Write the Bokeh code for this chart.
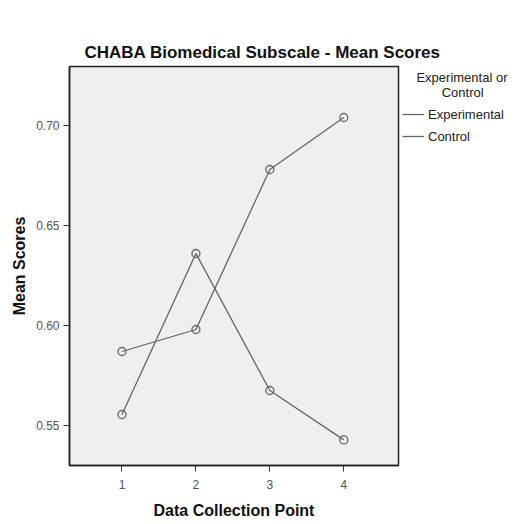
from bokeh.plotting import figure
from bokeh.models import FixedTicker, Range1d, Legend, LegendItem, NumeralTickFormatter, Title
from bokeh.embed import file_html
from bokeh.resources import INLINE

points = [1, 2, 3, 4]
experimental = [0.587, 0.598, 0.678, 0.704]
control = [0.5555, 0.636, 0.5675, 0.5428]
y_ticks = [0.55, 0.60, 0.65, 0.70]
series_names = ["Experimental", "Control"]
legend_title = "\u00a0\u00a0\u00a0\u00a0Experimental or\n" + "\u00a0" * 11 + "Control"
chart_title = "CHABA Biomedical Subscale - Mean Scores"

FONT = "Liberation Sans"
GRAY = "#646464"

p = figure(frame_width=329, frame_height=399, output_backend="svg", toolbar_location=None,
           x_range=Range1d(0.29, 4.74), y_range=Range1d(0.53, 0.7295),
           min_border_left=69, min_border_right=115, min_border_top=66, min_border_bottom=55)

# spacer between the frame and the chart title
p.title.text = "\u00a0"
p.title.text_font_size = "1px"
p.title.standoff = 28
p.add_layout(Title(text=chart_title, align="left", offset=15, standoff=10,
                   text_font=FONT, text_font_size="17px", text_font_style="bold",
                   text_color="#111111"), "above")

p.background_fill_color = "#efefef"
p.border_fill_color = "white"
p.outline_line_color = "#222222"
p.outline_line_width = 1.5
p.grid.visible = False

for ax in (p.xaxis[0], p.yaxis[0]):
    ax.axis_line_color = "#222222"
    ax.axis_line_width = 1.5
    ax.major_tick_line_color = "#333333"
    ax.major_tick_out = 6
    ax.major_tick_in = 0
    ax.minor_tick_line_color = None
    ax.major_label_text_font = FONT
    ax.major_label_text_font_size = "12px"
    ax.major_label_text_color = "#555555"
    ax.axis_label_text_font = FONT
    ax.axis_label_text_font_size = "16px"
    ax.axis_label_text_font_style = "bold"
    ax.axis_label_text_color = "#111111"

p.xaxis.ticker = FixedTicker(ticks=points)
p.yaxis.ticker = FixedTicker(ticks=y_ticks)
p.yaxis.formatter = NumeralTickFormatter(format="0.00")
p.xaxis.axis_label = "Data Collection Point"
p.yaxis.axis_label = "Mean Scores"
p.xaxis.major_label_standoff = 8
p.xaxis.axis_label_standoff = 10
p.yaxis.major_label_standoff = 4
p.yaxis.axis_label_standoff = 5

le = p.line(points, experimental, line_color=GRAY, line_width=1.3)
p.scatter(points, experimental, marker="circle", size=8, fill_color=None, line_color=GRAY, line_width=1.3)
lc = p.line(points, control, line_color=GRAY, line_width=1.3)
p.scatter(points, control, marker="circle", size=8, fill_color=None, line_color=GRAY, line_width=1.3)

legend = Legend(items=[LegendItem(label=series_names[0], renderers=[le]),
                       LegendItem(label=series_names[1], renderers=[lc])],
                title=legend_title,
                location="top_left", padding=0, margin=4, spacing=0,
                glyph_width=22, glyph_height=22, label_standoff=4,
                title_text_font=FONT, title_text_font_size="13px", title_text_font_style="normal",
                title_text_color="#222222", title_standoff=3,
                label_text_font=FONT, label_text_font_size="13px", label_text_color="#222222",
                border_line_color=None, background_fill_alpha=0)
p.add_layout(legend, "right")

open("out.html", "w").write(file_html(p, INLINE))
